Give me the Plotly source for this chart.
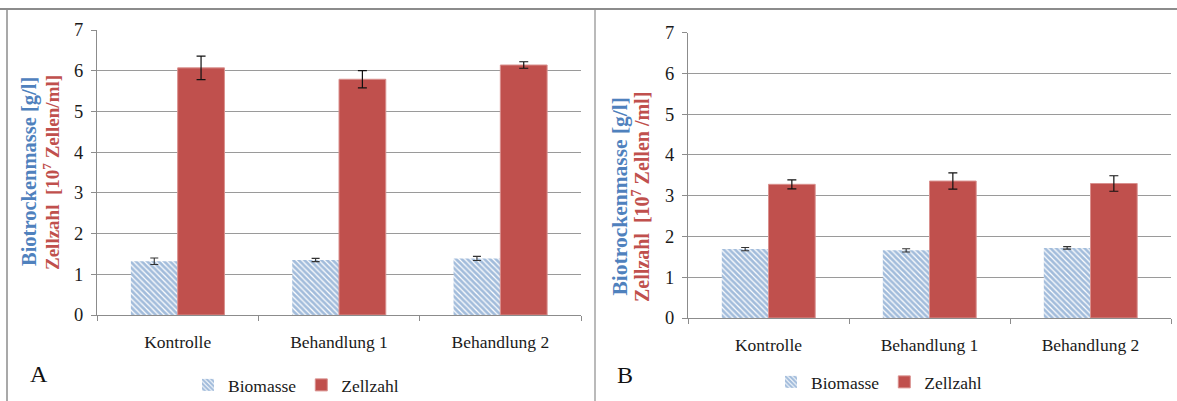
import plotly.graph_objects as go

# Data
categories = ["Kontrolle", "Behandlung 1", "Behandlung 2"]

biomasse_a = [1.32, 1.35, 1.39]
biomasse_a_err = [0.08, 0.04, 0.05]
zellzahl_a = [6.07, 5.79, 6.14]
zellzahl_a_err = [0.29, 0.21, 0.08]

biomasse_b = [1.69, 1.66, 1.72]
biomasse_b_err = [0.04, 0.04, 0.03]
zellzahl_b = [3.28, 3.36, 3.30]
zellzahl_b_err = [0.11, 0.20, 0.19]

y_ticks = [0, 1, 2, 3, 4, 5, 6, 7]

BLUE = "#4f81bd"
RED = "#c0504d"
FONT = "'Liberation Serif', Tinos, 'Times New Roman', 'DejaVu Serif', serif"
W, H = 1177, 401


def px_x(x):
    return x / W


def px_y(y):
    return 1 - y / H


def biomass_bar(y, err, xa, ya, legend):
    return go.Bar(
        x=categories, y=y, name="Biomasse", xaxis=xa, yaxis=ya,
        legend=legend,
        marker=dict(color="white",
                    pattern=dict(shape="\\", fgcolor="#4679b8", bgcolor="white",
                                 size=4, solidity=0.7),
                    line=dict(width=0)),
        error_y=dict(type="data", array=err, color="#333333",
                     thickness=1.1, width=4),
    )


def cell_bar(y, err, xa, ya, legend):
    return go.Bar(
        x=categories, y=y, name="Zellzahl", xaxis=xa, yaxis=ya,
        legend=legend,
        marker=dict(color=RED, line=dict(width=1, color="#d9908e")),
        error_y=dict(type="data", array=err, color="#111111",
                     thickness=1.2, width=4.5),
    )


fig = go.Figure()
fig.add_trace(biomass_bar(biomasse_a, biomasse_a_err, "x", "y", "legend"))
fig.add_trace(cell_bar(zellzahl_a, zellzahl_a_err, "x", "y", "legend"))
fig.add_trace(biomass_bar(biomasse_b, biomasse_b_err, "x2", "y2", "legend2"))
fig.add_trace(cell_bar(zellzahl_b, zellzahl_b_err, "x2", "y2", "legend2"))

xaxis_style = dict(
    showline=True, linecolor="#8c8c8c", linewidth=1,
    ticks="outside", ticklen=5, tickcolor="#8c8c8c", tickson="boundaries",
    tickfont=dict(family=FONT, size=17.5, color="#1a1a1a"),
    ticklabelstandoff=11, showgrid=False, fixedrange=True,
)
yaxis_style = dict(
    range=[0, 7], tickvals=y_ticks, showline=True, linecolor="#8c8c8c",
    linewidth=1, ticks="outside", ticklen=5, tickcolor="#8c8c8c",
    showgrid=True, gridcolor="#9a9a9a", gridwidth=1, zeroline=False,
    tickfont=dict(family=FONT, size=18.5, color="#1a1a1a"),
    ticklabelstandoff=4, fixedrange=True,
)

legend_style = dict(
    orientation="h", xanchor="left", yanchor="middle",
    font=dict(family=FONT, size=17.5, color="#1a1a1a"),
    bgcolor="rgba(0,0,0,0)", itemwidth=30,
)

fig.update_layout(
    width=W, height=H,
    margin=dict(l=0, r=0, t=0, b=0, autoexpand=False),
    paper_bgcolor="white", plot_bgcolor="white",
    barmode="group", bargap=0.42, bargroupgap=0,
    font=dict(family=FONT),
    xaxis=dict(domain=[px_x(97), px_x(581)], anchor="y", **xaxis_style),
    yaxis=dict(domain=[px_y(315), px_y(30)], anchor="x", **yaxis_style),
    xaxis2=dict(domain=[px_x(688), px_x(1171)], anchor="y2", **xaxis_style),
    yaxis2=dict(domain=[px_y(318), px_y(32.7)], anchor="x2", **yaxis_style),
    legend=dict(x=px_x(188), y=px_y(385), **legend_style),
    legend2=dict(x=px_x(771), y=px_y(382), **legend_style),
)

# Panel frame lines
line_col = "#8c8c8c"
fig.add_shape(type="line", xref="paper", yref="paper", x0=0, x1=1,
              y0=px_y(9), y1=px_y(9), line=dict(color=line_col, width=2))
fig.add_shape(type="line", xref="paper", yref="paper", x0=px_x(7), x1=px_x(7),
              y0=0, y1=px_y(9), line=dict(color=line_col, width=1.5))
fig.add_shape(type="line", xref="paper", yref="paper", x0=px_x(595), x1=px_x(595),
              y0=0, y1=px_y(9), line=dict(color=line_col, width=1.2))

# Axis titles (two coloured lines) and panel letters
titles = [
    (30, 172, "Biotrockenmasse [g/l]", BLUE, 20.5),
    (51, 173, "Zellzahl  [10<sup>7</sup> Zellen/ml]", RED, 19),
    (619.5, 197, "Biotrockenmasse [g/l]", BLUE, 21.5),
    (641, 197, "Zellzahl  [10<sup>7</sup> Zellen /ml]", RED, 20),
]
for x, y, text, col, size in titles:
    fig.add_annotation(x=px_x(x), y=px_y(y), xref="paper", yref="paper",
                       text="<b>" + text + "</b>", textangle=-90,
                       showarrow=False, xanchor="center", yanchor="middle",
                       font=dict(family=FONT, size=size, color=col))

for x, y, letter in [(39, 374, "A"), (625, 375, "B")]:
    fig.add_annotation(x=px_x(x), y=px_y(y), xref="paper", yref="paper",
                       text=letter, showarrow=False, xanchor="center",
                       yanchor="middle",
                       font=dict(family=FONT, size=24, color="#111111"))

fig.write_html("out.html")
